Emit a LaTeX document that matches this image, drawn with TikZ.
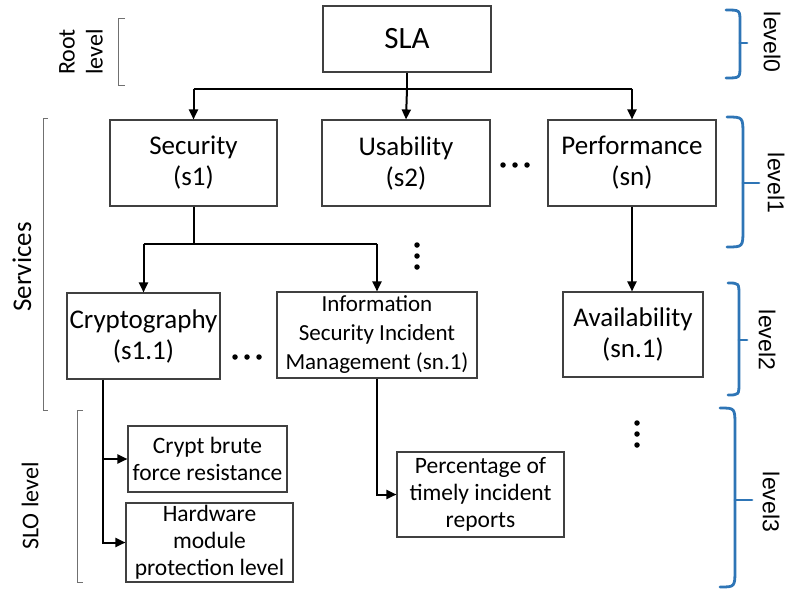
\documentclass[tikz,border=0pt]{standalone}
\usepackage{fontspec}
\setmainfont{Carlito}
\newfontfamily\levelfont{Liberation Sans}
\usetikzlibrary{arrows.meta}
\definecolor{boxgray}{HTML}{404040}
\definecolor{bracegray}{HTML}{707070}
\definecolor{braceblue}{HTML}{2E75B6}

\begin{document}
\begin{tikzpicture}[x=1pt,y=-1pt,
  box/.style={draw=boxgray,line width=1.1pt,rectangle,inner sep=0pt,align=center,
    font=\fontsize{27}{31}\selectfont},
  smallbox/.style={box,font=\fontsize{23.5}{27}\selectfont},
  conn/.style={line width=2pt,black},
  arr/.style={conn,-{Triangle[length=10pt,width=9pt]}},
  bracket/.style={draw=bracegray,line width=1pt},
  curly/.style={draw=braceblue,line width=2.8pt,line cap=round},
  sidelabel/.style={rotate=90,align=center},
  levellabel/.style={rotate=-90,font=\levelfont\fontsize{23}{27}\selectfont},
  dot/.style={fill=black,circle,inner sep=0pt,minimum size=5.5pt}]
\useasboundingbox (0,0) rectangle (787,589);

% --- boxes ---
\node[box,minimum width=168pt,minimum height=66pt,font=\fontsize{31}{36}\selectfont] (sla) at (407,39) {SLA};
\node[box,minimum width=167pt,minimum height=86pt] (sec) at (193.5,163) {Security\\(s1)};
\node[box,minimum width=168pt,minimum height=86pt] (usa) at (406,163) {Usability\\(s2)};
\node[box,minimum width=168pt,minimum height=86pt] (perf) at (632,163) {Performance\\(sn)};
\node[box,minimum width=153pt,minimum height=86pt] (cry) at (143.5,336) {Cryptography\\(s1.1)};
\node[box,minimum width=200pt,minimum height=86pt,font=\fontsize{23}{29}\selectfont] (info) at (377,335)
  {Information\\Security Incident\\Management (sn.1)};
\node[box,minimum width=140pt,minimum height=85pt] (avail) at (633,334.5) {Availability\\(sn.1)};
\node[smallbox,minimum width=159pt,minimum height=66pt] (brute) at (207.5,459) {Crypt brute\\force resistance};
\node[smallbox,minimum width=167pt,minimum height=79pt] (hw) at (209.5,542.5) {Hardware\\module\\protection level};
\node[smallbox,minimum width=167pt,minimum height=85pt] (pct) at (480.5,494.5) {Percentage of\\timely incident\\reports};

% --- connectors ---
\draw[conn] (sla.south) -- ++(0,16) coordinate (bus);
\draw[conn] (sec.north |- bus) -- (perf.north |- bus);
\draw[arr] (sec.north |- bus) -- (sec.north);
\draw[arr] (bus) -- (usa.north);
\draw[arr] (perf.north |- bus) -- (perf.north);

\draw[conn] (sec.south) -- ++(0,37) coordinate (secbus);
\draw[conn] (cry.north |- secbus) -- (info.north |- secbus);
\draw[arr] (cry.north |- secbus) -- (cry.north);
\draw[arr] (info.north |- secbus) -- (info.north);

\draw[arr] (perf.south) -- (perf.south |- avail.north);

\coordinate (crystem) at ([xshift=37pt]cry.south west);
\draw[arr] (crystem) |- (hw.west);
\draw[arr] (crystem |- brute.west) -- (brute.west);
\draw[arr] (info.south) |- (pct.west);

% --- ellipses ---
\node[dot] (h1) at (503,165) {};
\node[dot] (h2) at (515,165) {};
\node[dot] (h3) at (527,165) {};
\node[dot] (m1) at (235,357) {};
\node[dot] (m2) at (247,357) {};
\node[dot] (m3) at (259,357) {};
\node[dot] (v1) at (417,245) {};
\node[dot] (v2) at (417,256) {};
\node[dot] (v3) at (417,267) {};
\node[dot] (w1) at (637,423) {};
\node[dot] (w2) at (637,434) {};
\node[dot] (w3) at (637,445) {};

% --- left brackets and labels ---
\draw[bracket] (125,18) -- (118,18) -- (118,85) -- (125,85);
\draw[bracket] (48,118) -- (43,118) -- (43,410) -- (48,410);
\draw[bracket] (83,410) -- (77,410) -- (77,582) -- (83,582);
\node[sidelabel,font=\fontsize{24}{28}\selectfont] (rootlbl) at (81,52) {Root\\level};
\node[sidelabel,font=\fontsize{27}{31}\selectfont] (svclbl) at (22,267) {Services};
\node[sidelabel,font=\fontsize{24}{28}\selectfont] (slolbl) at (30,506) {SLO level};

% --- level braces ---
\draw[curly] (726,10) .. controls (740,10) .. (740,22) -- (740,66) .. controls (740,78) .. (726,78);
\draw[curly] (740,43) -- (747,43);
\draw[curly] (727,117) .. controls (743,117) .. (743,135) -- (743,229) .. controls (743,247) .. (727,247);
\draw[curly] (743,183) -- (759,183);
\draw[curly] (728,283) .. controls (739,283) .. (739,296) -- (739,382) .. controls (739,395) .. (728,395);
\draw[curly] (739,340) -- (747,340);
\draw[curly] (720,408) .. controls (735,408) .. (735,426) -- (735,569) .. controls (735,587) .. (720,587);
\draw[curly] (735,500) -- (752,500);
\node[levellabel] (l0) at (772,42) {level0};
\node[levellabel] (l1) at (776,183) {level1};
\node[levellabel] (l2) at (767,340) {level2};
\node[levellabel] (l3) at (771,502) {level3};
\end{tikzpicture}
\end{document}
